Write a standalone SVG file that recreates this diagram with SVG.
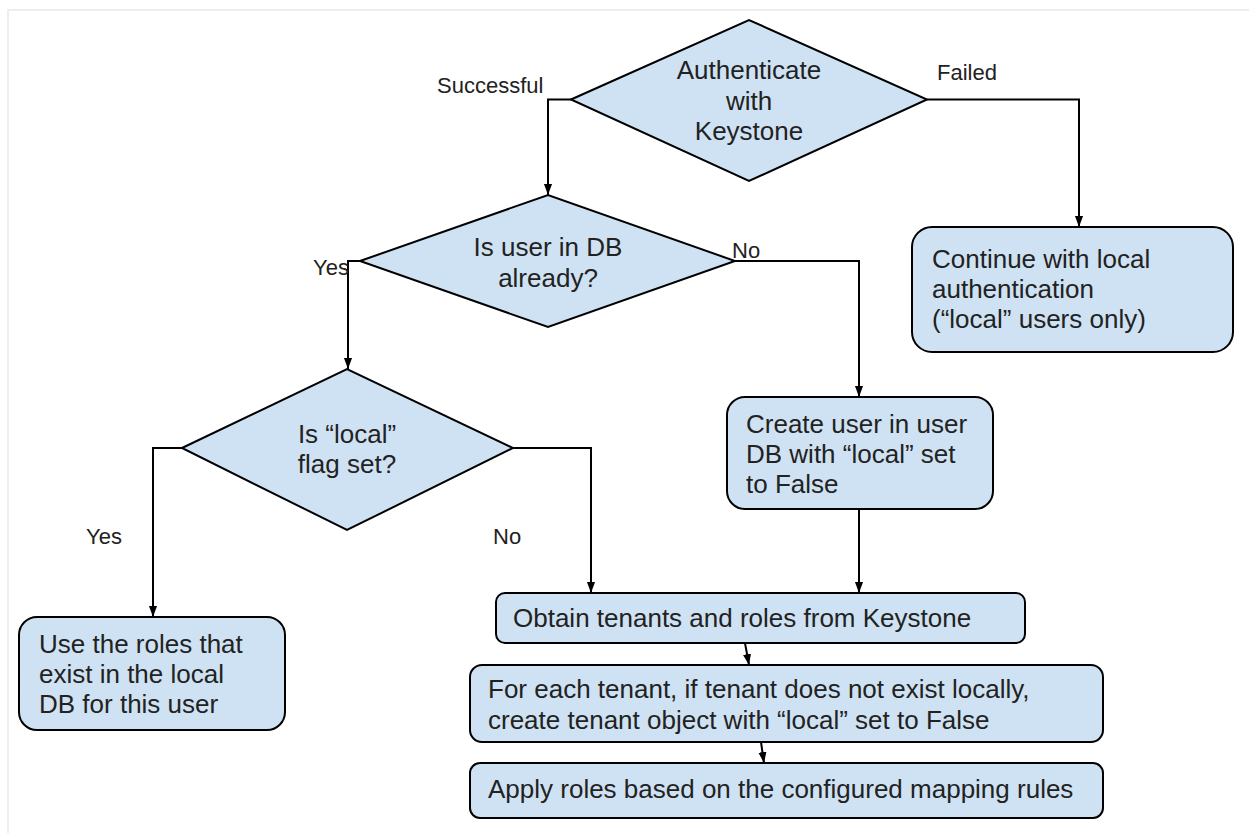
<svg xmlns="http://www.w3.org/2000/svg" width="1249" height="833" viewBox="0 0 1249 833">
<defs>
<marker id="arr" markerWidth="11" markerHeight="15" refX="15" refY="5.5" viewBox="0 0 15 11" markerUnits="userSpaceOnUse" orient="auto">
<path d="M0,0 L15,5.5 L0,11 z" fill="#000"/>
</marker>
<style>
.shape{fill:#cfe2f3;stroke:#000;stroke-width:2}
.t{font-family:"Liberation Sans",Arial,sans-serif;font-size:26px;fill:#222}
.c{text-anchor:middle}
.lbl{font-family:"Liberation Sans",Arial,sans-serif;font-size:22px;fill:#222}
.conn{fill:none;stroke:#000;stroke-width:2;marker-end:url(#arr)}
</style>
</defs>
<rect x="0" y="0" width="1249" height="833" fill="#fff"/>
<path d="M8,833 L8,10 L1249,10" fill="none" stroke="#eeeeee" stroke-width="2"/>

<g id="connectors">
<path class="conn" d="M571,99.5 H548 V195"/>
<path class="conn" d="M927,99.5 H1079 V227"/>
<path class="conn" d="M360,261 H348 V369"/>
<path class="conn" d="M735,261 H859 V397"/>
<path class="conn" d="M182,448 H153 V617"/>
<path class="conn" d="M513,448 H591 V593"/>
<path class="conn" d="M859,509 V593"/>
<path class="conn" d="M745,643 L749,665"/>
<path class="conn" d="M761,742 L764,763"/>
</g>

<g id="labels">
<text class="lbl" x="437" y="93">Successful</text>
<text class="lbl" x="937" y="80">Failed</text>
<text class="lbl" x="313" y="275">Yes</text>
<text class="lbl" x="732" y="258">No</text>
<text class="lbl" x="86" y="544">Yes</text>
<text class="lbl" x="493" y="544">No</text>
</g>

<g id="n-auth">
<polygon class="shape" points="571,99.5 749,20 927,99.5 749,181"/>
<text class="t c" x="749" y="79">Authenticate</text>
<text class="t c" x="749" y="110">with</text>
<text class="t c" x="749" y="140">Keystone</text>
</g>

<g id="n-continue">
<rect class="shape" x="912" y="227" width="321" height="125" rx="20"/>
<text class="t" x="932" y="268">Continue with local</text>
<text class="t" x="932" y="298">authentication</text>
<text class="t" x="932" y="328">(“local” users only)</text>
</g>

<g id="n-userdb">
<polygon class="shape" points="360,261 548,195 735,261 548,327"/>
<text class="t c" x="548" y="256">Is user in DB</text>
<text class="t c" x="548" y="287">already?</text>
</g>

<g id="n-localflag">
<polygon class="shape" points="182,448 347,369 513,448 347,530"/>
<text class="t c" x="347" y="443">Is “local”</text>
<text class="t c" x="347" y="473">flag set?</text>
</g>

<g id="n-create">
<rect class="shape" x="727" y="397" width="266" height="112" rx="18"/>
<text class="t" x="746" y="433">Create user in user</text>
<text class="t" x="746" y="463">DB with “local” set</text>
<text class="t" x="746" y="493">to False</text>
</g>

<g id="n-useroles">
<rect class="shape" x="19" y="617" width="266" height="113" rx="18"/>
<text class="t" x="39" y="653">Use the roles that</text>
<text class="t" x="39" y="683">exist in the local</text>
<text class="t" x="39" y="713">DB for this user</text>
</g>

<g id="n-obtain">
<rect class="shape" x="496" y="593" width="529" height="50" rx="9"/>
<text class="t" x="513" y="627">Obtain tenants and roles from Keystone</text>
</g>

<g id="n-foreach">
<rect class="shape" x="470" y="665" width="633" height="77" rx="12"/>
<text class="t" x="488" y="698">For each tenant, if tenant does not exist locally,</text>
<text class="t" x="488" y="729">create tenant object with “local” set to False</text>
</g>

<g id="n-apply">
<rect class="shape" x="470" y="763" width="633" height="55" rx="10"/>
<text class="t" x="488" y="798">Apply roles based on the configured mapping rules</text>
</g>
</svg>
